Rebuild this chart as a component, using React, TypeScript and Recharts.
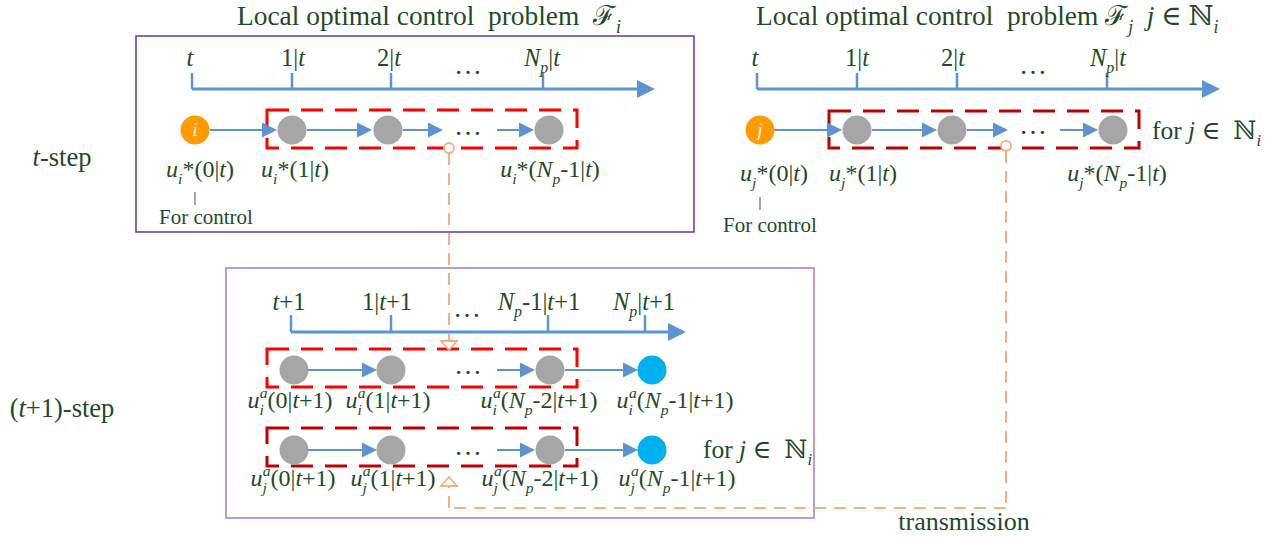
import React from 'react';
import {
  ScatterChart,
  Scatter,
  XAxis,
  YAxis,
  ReferenceLine,
  ReferenceArea,
  ReferenceDot,
} from 'recharts';

const W = 1271;
const H = 538;

const INK = '#1f4a2a';
const BLUE = '#5b93d3';
const ORANGE_DASH = '#f6b07c';
const SERIF = '"Liberation Serif", "Times New Roman", "DejaVu Serif", serif';

// time axes: start, arrow tip, baseline, tick top, tick positions
const AXES = [
  { from: 192, to: 655, y: 89, tickTop: 73, ticks: [192, 292, 391, 543] },
  { from: 757, to: 1220, y: 89, tickTop: 73, ticks: [757, 857, 957, 1107] },
  { from: 291, to: 686, y: 332, tickTop: 315, ticks: [291, 391, 548, 645] },
];

// nodes of each sequence
const NODES_T_I = [
  { x: 195, y: 130, kind: 'agent', tag: 'i' },
  { x: 292, y: 130, kind: 'plan' },
  { x: 388, y: 130, kind: 'plan' },
  { x: 549, y: 130, kind: 'plan' },
];
const NODES_T_J = [
  { x: 760, y: 130, kind: 'agent', tag: 'j' },
  { x: 857, y: 130, kind: 'plan' },
  { x: 952, y: 130, kind: 'plan' },
  { x: 1113, y: 130, kind: 'plan' },
];
const NODES_T1_I = [
  { x: 294, y: 370, kind: 'plan' },
  { x: 391, y: 370, kind: 'plan' },
  { x: 550, y: 370, kind: 'plan' },
  { x: 652, y: 370, kind: 'tail' },
];
const NODES_T1_J = [
  { x: 294, y: 450, kind: 'plan' },
  { x: 391, y: 450, kind: 'plan' },
  { x: 550, y: 450, kind: 'plan' },
  { x: 652, y: 450, kind: 'tail' },
];

// arrows between nodes: start, tip, row
const ARROWS = [
  { x1: 210, x2: 277, y: 130 }, { x1: 307, x2: 372, y: 130 },
  { x1: 403, x2: 443, y: 130 }, { x1: 497, x2: 534, y: 130 },
  { x1: 774, x2: 842, y: 130 }, { x1: 872, x2: 937, y: 130 },
  { x1: 967, x2: 1008, y: 130 }, { x1: 1060, x2: 1098, y: 130 },
  { x1: 308, x2: 377, y: 370 }, { x1: 497, x2: 535, y: 370 }, { x1: 565, x2: 638, y: 370 },
  { x1: 308, x2: 377, y: 450 }, { x1: 497, x2: 535, y: 450 }, { x1: 565, x2: 638, y: 450 },
];

// frames
const PANELS = [
  { x1: 136, y1: 36, x2: 694, y2: 232, tone: 'dark' },
  { x1: 226, y1: 268, x2: 814, y2: 518, tone: 'light' },
];
const WINDOWS = [
  { x1: 267, y1: 110, x2: 577, y2: 148, tone: 'own' },
  { x1: 829, y1: 111, x2: 1139, y2: 148, tone: 'nbr' },
  { x1: 267, y1: 349, x2: 577, y2: 387, tone: 'own' },
  { x1: 267, y1: 428, x2: 577, y2: 466, tone: 'nbr' },
];

// transmission path (orange dashed)
const LINKS = [
  [{ x: 449, y: 153 }, { x: 449, y: 341 }],
  [{ x: 1006, y: 151 }, { x: 1006, y: 508 }],
  [{ x: 1006, y: 508 }, { x: 449, y: 508 }],
  [{ x: 449, y: 508 }, { x: 449, y: 486 }],
];
const LINK_STARTS = [{ x: 449, y: 148 }, { x: 1006, y: 146 }];
const LINK_HEADS = [
  { x: 449, y: 350, dir: 'down' },
  { x: 449, y: 477, dir: 'up' },
];

// small "|" marks under u*(0|t)
const CONTROL_MARKS = [
  { x: 195, y1: 192, y2: 205 },
  { x: 760, y1: 197, y2: 210 },
];

// text: [..] italic, _{..} subscript, ^{..} superscript
const TITLES = [
  { x: 237, y: 25, text: 'Local optimal control  problem  ℱ_{i}' },
  { x: 756, y: 25, text: 'Local optimal control  problem ℱ_{j}  [j] ∈ ℕ_{i}' },
];
const TICK_LABELS = [
  { x: 190, y: 66, text: '[t]' }, { x: 293, y: 66, text: '1|[t]' },
  { x: 389, y: 66, text: '2|[t]' }, { x: 542, y: 66, text: '[N]_{p}|[t]' },
  { x: 755, y: 66, text: '[t]' }, { x: 857, y: 66, text: '1|[t]' },
  { x: 953, y: 66, text: '2|[t]' }, { x: 1108, y: 66, text: '[N]_{p}|[t]' },
  { x: 289, y: 310, text: '[t]+1' }, { x: 387, y: 310, text: '1|[t]+1' },
  { x: 539, y: 310, text: '[N]_{p}-1|[t]+1' }, { x: 644, y: 310, text: '[N]_{p}|[t]+1' },
];
const NODE_LABELS = [
  { x: 200, y: 177, text: '[u]_{i}*(0|[t])' },
  { x: 295, y: 177, text: '[u]_{i}*(1|[t])' },
  { x: 550, y: 177, text: '[u]_{i}*([N]_{p}-1|[t])' },
  { x: 774, y: 181, text: '[u]_{j}*(0|[t])' },
  { x: 863, y: 181, text: '[u]_{j}*(1|[t])' },
  { x: 1117, y: 181, text: '[u]_{j}*([N]_{p}-1|[t])' },
  { x: 290, y: 408, text: '[u]_{i}^{a}(0|[t]+1)' },
  { x: 388, y: 408, text: '[u]_{i}^{a}(1|[t]+1)' },
  { x: 539, y: 408, text: '[u]_{i}^{a}([N]_{p}-2|[t]+1)' },
  { x: 675, y: 408, text: '[u]_{i}^{a}([N]_{p}-1|[t]+1)' },
  { x: 293, y: 486, text: '[u]_{j}^{a}(0|[t]+1)' },
  { x: 393, y: 486, text: '[u]_{j}^{a}(1|[t]+1)' },
  { x: 540, y: 486, text: '[u]_{j}^{a}([N]_{p}-2|[t]+1)' },
  { x: 677, y: 486, text: '[u]_{j}^{a}([N]_{p}-1|[t]+1)' },
];
const ELLIPSES = [
  { x: 468, y: 74, text: '…' }, { x: 1033, y: 74, text: '…' },
  { x: 468, y: 135, text: '…' }, { x: 1033, y: 134, text: '…' },
  { x: 467, y: 317, text: '…' }, { x: 468, y: 374, text: '…' }, { x: 468, y: 455, text: '…' },
];
const CONTROL_NOTES = [
  { x: 206, y: 224, text: 'For control' },
  { x: 770, y: 232, text: 'For control' },
];
const STEP_LABELS = [
  { x: 62, y: 166, text: '[t]-step' },
  { x: 62, y: 417, text: '([t]+1)-step' },
];
const SET_NOTES = [
  { x: 1152, y: 139, text: 'for [j] ∈  ℕ_{i}' },
  { x: 703, y: 458, text: 'for [j] ∈  ℕ_{i}' },
];
const CAPTIONS = [{ x: 964, y: 530, text: 'transmission' }];

const NODE_FILL: Record<string, string> = { agent: '#ff9b00', plan: '#a6a6a6', tail: '#00b0f0' };
const PANEL_STROKE: Record<string, string> = { dark: '#7030a0', light: '#a07ccf' };
const WINDOW_STROKE: Record<string, string> = { own: '#ff0000', nbr: '#c00000' };

type Seg = { text: string; italic: boolean; pos: 'base' | 'sub' | 'sup' };

function parseRich(src: string): Seg[] {
  const segs: Seg[] = [];
  let buf = '';
  let italic = false;
  const flush = () => {
    if (buf) segs.push({ text: buf, italic, pos: 'base' });
    buf = '';
  };
  for (let k = 0; k < src.length; k++) {
    const c = src[k];
    if (c === '[') { flush(); italic = true; }
    else if (c === ']') { flush(); italic = false; }
    else if ((c === '_' || c === '^') && src[k + 1] === '{') {
      flush();
      const end = src.indexOf('}', k);
      segs.push({ text: src.slice(k + 2, end), italic: true, pos: c === '_' ? 'sub' : 'sup' });
      k = end;
    } else buf += c;
  }
  flush();
  return segs;
}

function RichText({ x, y, src, size, anchor = 'middle' }: { x: number; y: number; src: string; size: number; anchor?: string }) {
  const segs = parseRich(src);
  let shift = 0;
  let prevSub = '';
  return (
    <text x={x} y={y} fontSize={size} fill={INK} textAnchor={anchor} fontFamily={SERIF} style={{ whiteSpace: 'pre' }}>
      {segs.map((s, k) => {
        const target = s.pos === 'sub' ? size * 0.28 : s.pos === 'sup' ? -size * 0.42 : 0;
        const dy = target - shift;
        shift = target;
        const dx = s.pos === 'sup' && prevSub ? -size * 0.65 * 0.25 * prevSub.length : undefined;
        prevSub = s.pos === 'sub' ? s.text : '';
        return (
          <tspan
            key={k}
            dy={dy || undefined}
            dx={dx}
            fontStyle={s.italic ? 'italic' : 'normal'}
            fontSize={s.pos === 'base' ? size : size * 0.65}
          >
            {s.text}
          </tspan>
        );
      })}
    </text>
  );
}

const textShape = (size: number, anchor = 'middle') => (p: any) => (
  <RichText x={p.cx} y={p.cy} src={p.payload.text} size={size} anchor={anchor} />
);

const nodeShape = (p: any) => (
  <g>
    <circle cx={p.cx} cy={p.cy} r={14.5} fill={NODE_FILL[p.payload.kind]} />
    {p.payload.tag && (
      <text x={p.cx} y={p.cy + 6} textAnchor="middle" fontSize={18} fontStyle="italic" fill="#fff" fontFamily={SERIF}>
        {p.payload.tag}
      </text>
    )}
  </g>
);

const headShape = (len: number, half: number) => (p: any) => (
  <polygon points={`${p.cx},${p.cy} ${p.cx - len},${p.cy - half} ${p.cx - len},${p.cy + half}`} fill={BLUE} />
);

const hollowHead = (p: any) => {
  const b = p.payload.dir === 'down' ? p.cy - 9 : p.cy + 9;
  return (
    <polygon
      points={`${p.cx},${p.cy} ${p.cx - 8},${b} ${p.cx + 8},${b}`}
      fill="#fff"
      stroke={ORANGE_DASH}
      strokeWidth={1.8}
    />
  );
};

export default function App() {
  const allNodes = [...NODES_T_I, ...NODES_T_J, ...NODES_T1_I, ...NODES_T1_J];
  const axisHeads = AXES.map(a => ({ x: a.to, y: a.y }));
  const arrowHeads = ARROWS.map(a => ({ x: a.x2, y: a.y }));

  return (
    <div style={{ width: W, height: H, background: '#fff' }}>
      <style>{'body{margin:0}'}</style>
      <ScatterChart width={W} height={H} margin={{ top: 0, right: 0, bottom: 0, left: 0 }}>
        <XAxis type="number" dataKey="x" domain={[0, W]} hide allowDataOverflow />
        <YAxis type="number" dataKey="y" domain={[0, H]} reversed hide allowDataOverflow />

        {PANELS.map((b, k) => (
          <ReferenceArea
            key={`p${k}`}
            x1={b.x1} x2={b.x2} y1={b.y1} y2={b.y2}
            fill="none" fillOpacity={0}
            stroke={PANEL_STROKE[b.tone]} strokeWidth={1.5}
            ifOverflow="visible"
          />
        ))}
        {WINDOWS.map((b, k) => (
          <ReferenceArea
            key={`w${k}`}
            x1={b.x1} x2={b.x2} y1={b.y1} y2={b.y2}
            fill="none" fillOpacity={0}
            stroke={WINDOW_STROKE[b.tone]} strokeWidth={3} strokeDasharray="22 12"
            ifOverflow="visible"
          />
        ))}

        {AXES.map((a, k) => (
          <ReferenceLine
            key={`a${k}`}
            segment={[{ x: a.from, y: a.y }, { x: a.to - 10, y: a.y }]}
            stroke={BLUE} strokeWidth={3} ifOverflow="visible"
          />
        ))}
        {AXES.flatMap((a, k) =>
          a.ticks.map((t, n) => (
            <ReferenceLine
              key={`t${k}-${n}`}
              segment={[{ x: t, y: a.tickTop }, { x: t, y: a.y }]}
              stroke={BLUE} strokeWidth={2.5} ifOverflow="visible"
            />
          ))
        )}
        {ARROWS.map((a, k) => (
          <ReferenceLine
            key={`r${k}`}
            segment={[{ x: a.x1, y: a.y }, { x: a.x2 - 8, y: a.y }]}
            stroke={BLUE} strokeWidth={2} ifOverflow="visible"
          />
        ))}
        {CONTROL_MARKS.map((m, k) => (
          <ReferenceLine
            key={`m${k}`}
            segment={[{ x: m.x, y: m.y1 }, { x: m.x, y: m.y2 }]}
            stroke="#5d6f63" strokeWidth={1.2} ifOverflow="visible"
          />
        ))}
        {LINKS.map((s, k) => (
          <ReferenceLine
            key={`l${k}`}
            segment={s}
            stroke={ORANGE_DASH} strokeWidth={2} strokeDasharray="12 8" ifOverflow="visible"
          />
        ))}
        {LINK_STARTS.map((d, k) => (
          <ReferenceDot
            key={`d${k}`}
            x={d.x} y={d.y} r={5}
            fill="#fff" stroke={ORANGE_DASH} strokeWidth={1.8}
            ifOverflow="visible"
          />
        ))}

        <Scatter data={allNodes} shape={nodeShape} isAnimationActive={false} />
        <Scatter data={axisHeads} shape={headShape(18, 9)} isAnimationActive={false} />
        <Scatter data={arrowHeads} shape={headShape(15, 7.5)} isAnimationActive={false} />
        <Scatter data={LINK_HEADS} shape={hollowHead} isAnimationActive={false} />

        <Scatter data={TITLES} shape={textShape(27.4, 'start')} isAnimationActive={false} />
        <Scatter data={TICK_LABELS} shape={textShape(24.5)} isAnimationActive={false} />
        <Scatter data={NODE_LABELS} shape={textShape(24)} isAnimationActive={false} />
        <Scatter data={ELLIPSES} shape={textShape(28)} isAnimationActive={false} />
        <Scatter data={CONTROL_NOTES} shape={textShape(21)} isAnimationActive={false} />
        <Scatter data={STEP_LABELS} shape={textShape(26.5)} isAnimationActive={false} />
        <Scatter data={SET_NOTES} shape={textShape(25.5, 'start')} isAnimationActive={false} />
        <Scatter data={CAPTIONS} shape={textShape(26)} isAnimationActive={false} />
      </ScatterChart>
    </div>
  );
}
